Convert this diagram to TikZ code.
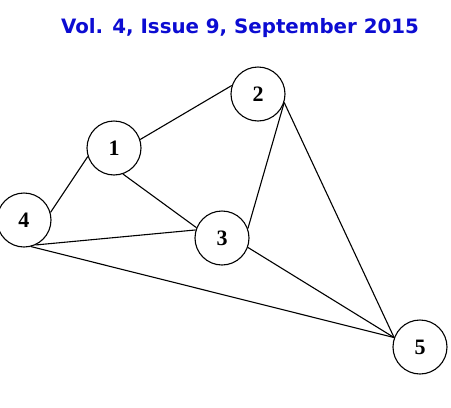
\documentclass[tikz,border=0pt]{standalone}
\usepackage{fontspec}
\setmainfont{Liberation Serif}
\newfontfamily\headfont{DejaVu Sans}
\definecolor{headblue}{RGB}{12,12,210}

\begin{document}
\begin{tikzpicture}[x=1pt,y=-1pt,
  vertex/.style={draw,circle,line width=1.1pt,minimum size=54pt,inner sep=0pt,
    font=\fontsize{22}{22}\selectfont\bfseries},
  edge/.style={line width=1.1pt}]
\useasboundingbox (0,0) rectangle (451,408);
\node[font=\headfont\fontsize{19.8}{22}\selectfont\bfseries,text=headblue] (head) at (240,28)
 {Vol. 4, Issue 9, September 2015};
\node[vertex] (n1) at (114,148) {1};
\node[vertex] (n2) at (258,94) {2};
\node[vertex] (n3) at (222,238) {3};
\node[vertex] (n4) at (24,220) {4};
\node[vertex] (n5) at (420,347) {5};
\draw[edge] (n1.18)--(n2.162);
\draw[edge] (n1.198)--(n4.16);
\draw[edge] (n1.-71)--(n3.158);
\draw[edge] (n2.-18)--(n3.20);
\draw[edge] (n2.-18)--(n5.160);
\draw[edge] (n4.-65)--(n3.163);
\draw[edge] (n4.-75)--(n5.160);
\draw[edge] (n3.-20)--(n5.160);
\end{tikzpicture}
\end{document}
